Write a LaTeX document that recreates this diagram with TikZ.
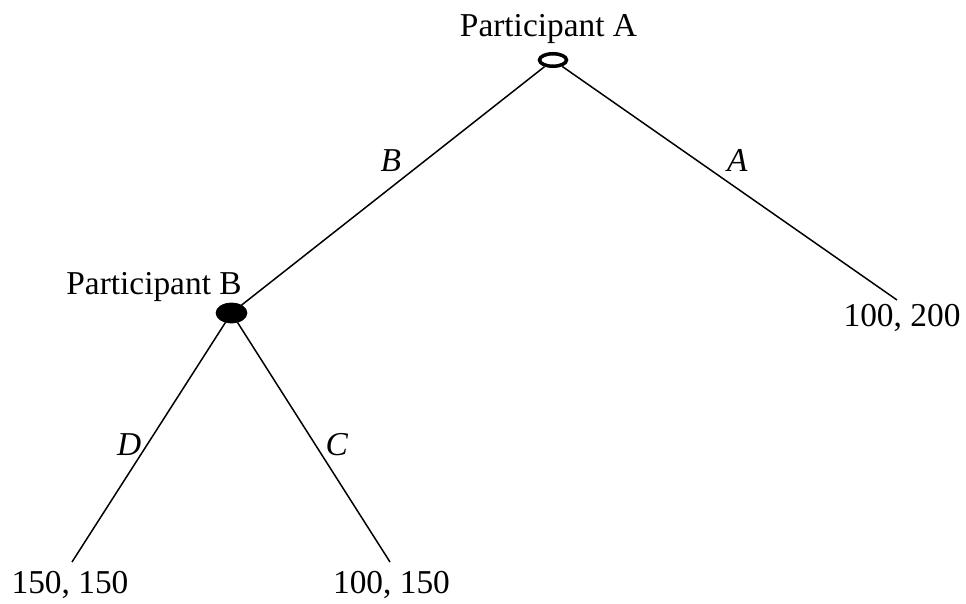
\documentclass[tikz,border=0pt]{standalone}
\usepackage{fontspec}
\setmainfont{Liberation Serif}
\usetikzlibrary{positioning}
\usetikzlibrary{shapes.geometric}

\begin{document}
\begin{tikzpicture}
\pgfmathsetmacro{\YT}{5.82}
\pgfmathsetmacro{\YB}{0.82}

\tikzset{
  every node/.style={font=\fontsize{19}{22}\selectfont},
  move/.style={draw, ellipse, inner sep=0pt},
  edge/.style={line width=0.85pt},
  act/.style={font=\fontsize{19}{22}\selectfont\itshape, inner sep=2pt},
}

\useasboundingbox (0,0) rectangle (19.32,12.06);

\node[move, line width=2pt, minimum width=0.54cm, minimum height=0.25cm] (nA) at (11.06, 10.86) {};
\node[move, fill=black, minimum width=0.62cm, minimum height=0.40cm] (nB) at (4.63, 5.8) {};

\node[anchor=base] (lA) at (10.97, 11.32) {Participant A};
\node[anchor=base] (lB) at (3.08, 6.18) {Participant B};

% ends of the branches, payoffs below them
\coordinate (tA) at (17.94, \YT+0.24);
\coordinate (tD) at (1.44, \YB);
\coordinate (tC) at (7.80, \YB);

\node[anchor=base] (oA) at (18.04, 5.54) {100, 200};
\node[anchor=base] (oD) at (1.40, 0.20) {150, 150};
\node[anchor=base] (oC) at (7.83, 0.20) {100, 150};

\draw[edge] (nA) -- node[act, pos=0.46, anchor=south east] {B} (nB);
\draw[edge] (nA) -- node[act, pos=0.475, anchor=south west, inner sep=3pt] {A} (tA);
\draw[edge] (nB) -- node[act, pos=0.51, anchor=east, inner sep=3pt] {D} (tD);
\draw[edge] (nB) -- node[act, pos=0.51, anchor=west, inner sep=5.5pt] {C} (tC);
\end{tikzpicture}
\end{document}
